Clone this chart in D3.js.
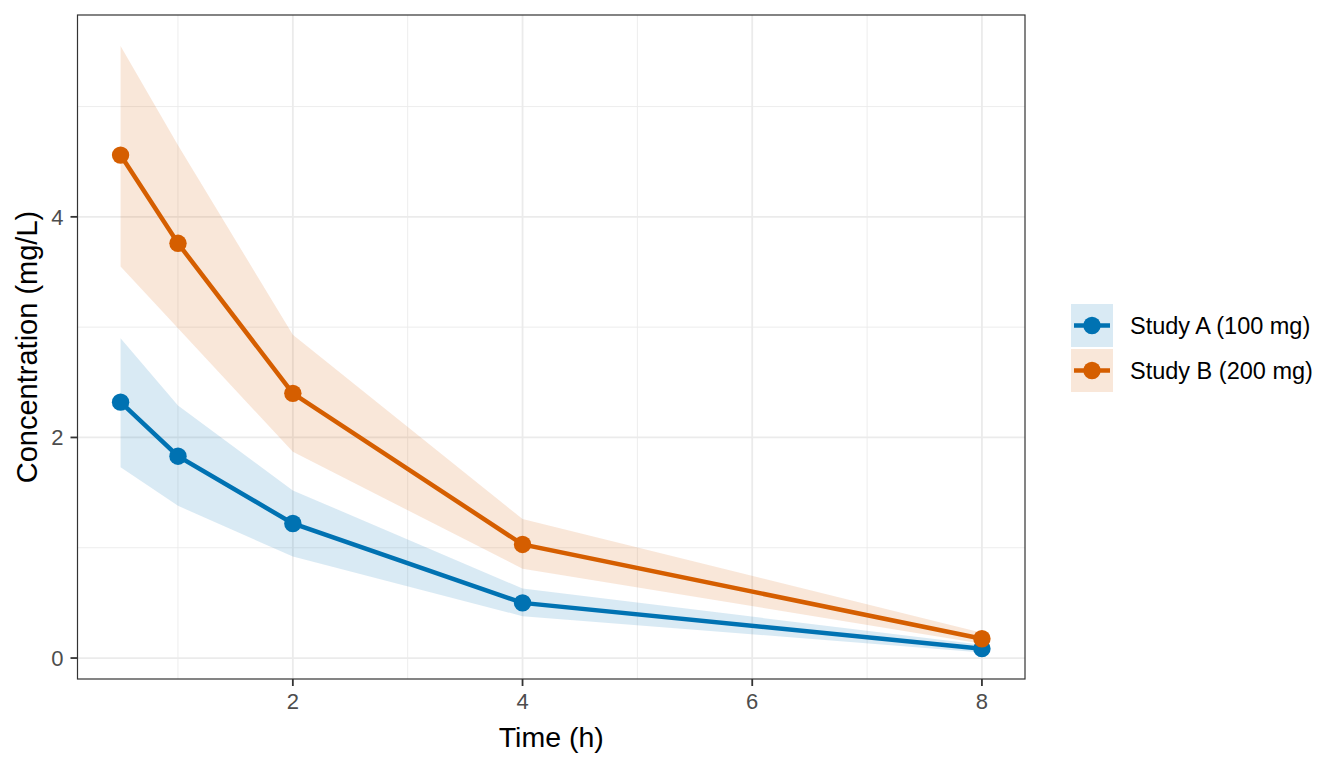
<!DOCTYPE html>
<html lang="en">
<head>
<meta charset="UTF-8">
<title>Concentration over time</title>
<style>
  body { margin: 0; background: #fff; }
  text { font-family: "Liberation Sans", Arial, sans-serif; }
  .grid-major { stroke: #ebebeb; stroke-width: 1.8px; }
  .grid-minor { stroke: #ebebeb; stroke-width: 0.9px; }
  .tick-label { fill: #4d4d4d; font-size: 22px; }
</style>
</head>
<body>
<script src="https://cdn.jsdelivr.net/npm/d3@7"></script>
<script>
  // data
  const times = [0.5, 1, 2, 4, 8];
  const studies = ["Study A (100 mg)", "Study B (200 mg)"];
  const colors = ["#0072B2", "#D55E00"];

  const meanA = [2.32, 1.83, 1.22, 0.50, 0.085];
  const upperA = [2.90, 2.29, 1.52, 0.63, 0.12];
  const lowerA = [1.73, 1.38, 0.92, 0.38, 0.05];

  const meanB = [4.56, 3.76, 2.40, 1.03, 0.175];
  const upperB = [5.55, 4.65, 2.93, 1.26, 0.23];
  const lowerB = [3.55, 2.99, 1.87, 0.81, 0.13];

  const xTicks = [2, 4, 6, 8];
  const xMinor = [1, 3, 5, 7];
  const yTicks = [0, 2, 4];
  const yMinor = [1, 3, 5];

  const width = 1344, height = 768;
  const panel = { left: 77.5, right: 1025, top: 15, bottom: 679 };

  const series = [
    { name: studies[0], color: colors[0], mean: meanA, upper: upperA, lower: lowerA },
    { name: studies[1], color: colors[1], mean: meanB, upper: upperB, lower: lowerB }
  ];

  const x = d3.scaleLinear().domain([0.125, 8.375]).range([panel.left, panel.right]);
  const y = d3.scaleLinear().domain([-0.19, 5.83]).range([panel.bottom, panel.top]);

  const svg = d3.select('body').append('svg')
    .attr('width', width)
    .attr('height', height);

  // grid
  const grid = svg.append('g');
  grid.selectAll('line.ym').data(yMinor).join('line')
    .attr('class', 'grid-minor')
    .attr('x1', panel.left).attr('x2', panel.right)
    .attr('y1', d => y(d)).attr('y2', d => y(d));
  grid.selectAll('line.xm').data(xMinor).join('line')
    .attr('class', 'grid-minor')
    .attr('y1', panel.top).attr('y2', panel.bottom)
    .attr('x1', d => x(d)).attr('x2', d => x(d));
  grid.selectAll('line.yM').data(yTicks).join('line')
    .attr('class', 'grid-major')
    .attr('x1', panel.left).attr('x2', panel.right)
    .attr('y1', d => y(d)).attr('y2', d => y(d));
  grid.selectAll('line.xM').data(xTicks).join('line')
    .attr('class', 'grid-major')
    .attr('y1', panel.top).attr('y2', panel.bottom)
    .attr('x1', d => x(d)).attr('x2', d => x(d));

  // ribbons
  const area = d3.area()
    .x((d, i) => x(times[i]))
    .y0(d => y(d[0]))
    .y1(d => y(d[1]));
  series.forEach(s => {
    svg.append('path')
      .datum(s.lower.map((v, i) => [v, s.upper[i]]))
      .attr('d', area)
      .attr('fill', s.color)
      .attr('fill-opacity', 0.15);
  });

  // lines
  const line = d3.line()
    .x((d, i) => x(times[i]))
    .y(d => y(d));
  series.forEach(s => {
    svg.append('path')
      .datum(s.mean)
      .attr('d', line)
      .attr('fill', 'none')
      .attr('stroke', s.color)
      .attr('stroke-width', 4.5);
  });

  // points
  series.forEach(s => {
    svg.append('g').selectAll('circle')
      .data(s.mean)
      .join('circle')
      .attr('cx', (d, i) => x(times[i]))
      .attr('cy', d => y(d))
      .attr('r', 8.7)
      .attr('fill', s.color);
  });

  // panel border
  svg.append('rect')
    .attr('x', panel.left).attr('y', panel.top)
    .attr('width', panel.right - panel.left)
    .attr('height', panel.bottom - panel.top)
    .attr('fill', 'none')
    .attr('stroke', '#333333')
    .attr('stroke-width', 1.2);

  // axes
  const xAxis = svg.append('g');
  xAxis.selectAll('line').data(xTicks).join('line')
    .attr('x1', d => x(d)).attr('x2', d => x(d))
    .attr('y1', panel.bottom).attr('y2', panel.bottom + 7)
    .attr('stroke', '#333333').attr('stroke-width', 1.8);
  xAxis.selectAll('text').data(xTicks).join('text')
    .attr('class', 'tick-label')
    .attr('x', d => x(d)).attr('y', panel.bottom + 30)
    .attr('text-anchor', 'middle')
    .text(d => d);

  const yAxis = svg.append('g');
  yAxis.selectAll('line').data(yTicks).join('line')
    .attr('y1', d => y(d)).attr('y2', d => y(d))
    .attr('x1', panel.left - 7).attr('x2', panel.left)
    .attr('stroke', '#333333').attr('stroke-width', 1.8);
  yAxis.selectAll('text').data(yTicks).join('text')
    .attr('class', 'tick-label')
    .attr('x', panel.left - 14).attr('y', d => y(d))
    .attr('dy', '0.36em')
    .attr('text-anchor', 'end')
    .text(d => d);

  // axis titles
  svg.append('text')
    .attr('x', (panel.left + panel.right) / 2)
    .attr('y', 747)
    .attr('text-anchor', 'middle')
    .attr('font-size', 28.5)
    .attr('fill', '#000')
    .text('Time (h)');

  svg.append('text')
    .attr('transform', `translate(37,${(panel.top + panel.bottom) / 2}) rotate(-90)`)
    .attr('text-anchor', 'middle')
    .attr('font-size', 29)
    .attr('fill', '#000')
    .text('Concentration (mg/L)');

  // legend
  const legend = svg.append('g').attr('transform', 'translate(1071,304)');
  series.forEach((s, i) => {
    const g = legend.append('g').attr('transform', `translate(0,${i * 45})`);
    g.append('rect')
      .attr('width', 42).attr('height', 43)
      .attr('fill', s.color).attr('fill-opacity', 0.15);
    g.append('line')
      .attr('x1', 3).attr('x2', 39)
      .attr('y1', 21.5).attr('y2', 21.5)
      .attr('stroke', s.color).attr('stroke-width', 4.5);
    g.append('circle')
      .attr('cx', 21).attr('cy', 21.5).attr('r', 8.7)
      .attr('fill', s.color);
    g.append('text')
      .attr('x', 59).attr('y', 29.5)
      .attr('font-size', 23.5)
      .attr('fill', '#000')
      .text(s.name);
  });
</script>
</body>
</html>
